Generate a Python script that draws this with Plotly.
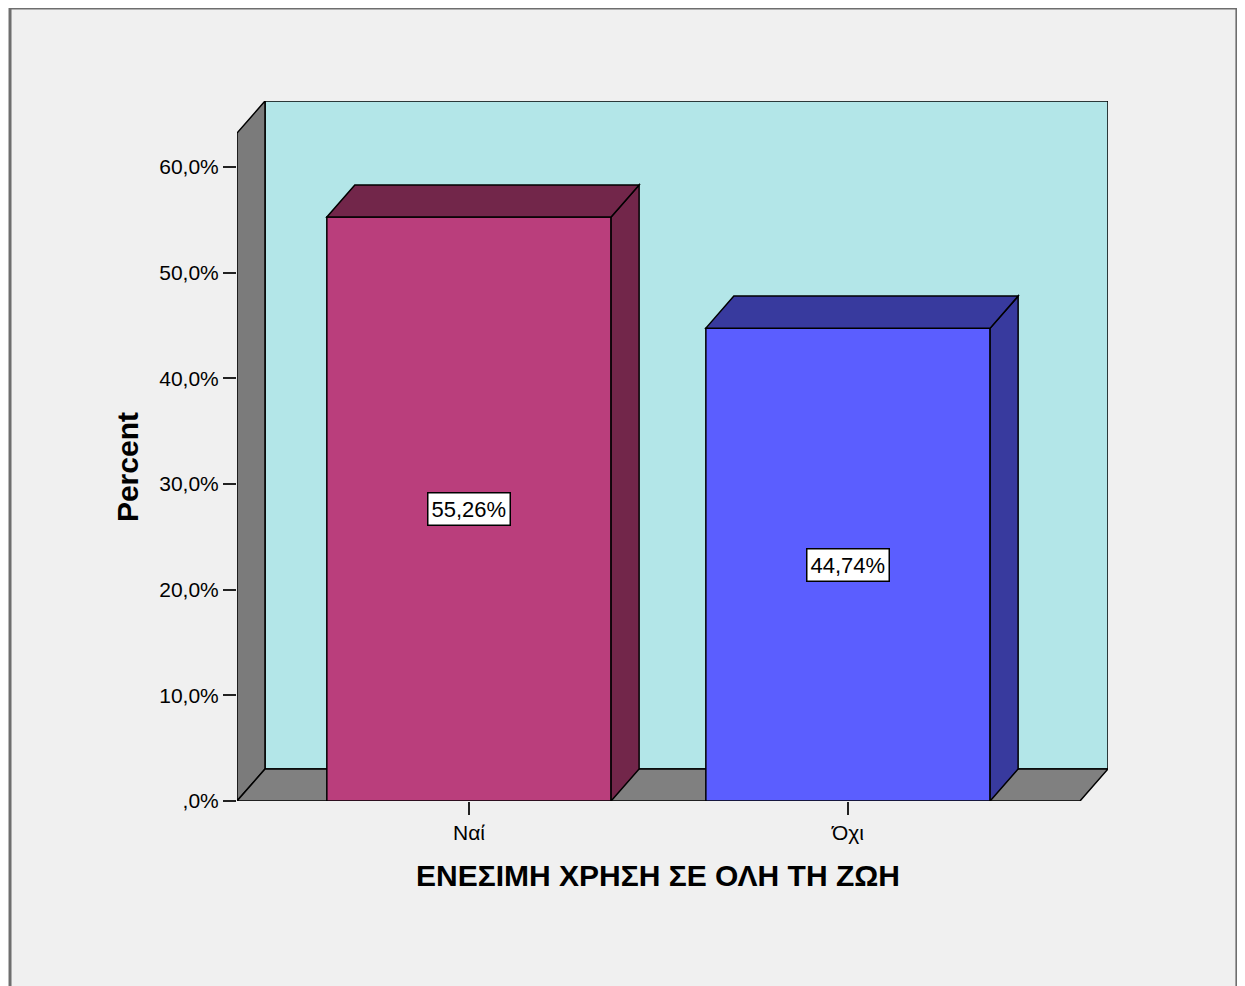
import plotly.graph_objects as go

# data
categories = ["Ναί", "Όχι"]
percent = [55.26, 44.74]
y_ticks = [0, 10, 20, 30, 40, 50, 60]
y_ticktext = [",0%", "10,0%", "20,0%", "30,0%", "40,0%", "50,0%", "60,0%"]
x_title = "ΕΝΕΣΙΜΗ ΧΡΗΣΗ ΣΕ ΟΛΗ ΤΗ ΖΩΗ"
y_title = "Percent"

# style
FONT = "Liberation Sans, Arial, sans-serif"
front_colors = ["#BA3E7C", "#5B5EFF"]
dark_colors = ["#72264A", "#383A9E"]
WALL = "#7B7B7B"
FLOOR = "#808080"
BACK = "#B3E6E8"
BG = "#F0F0F0"

BAR_W = 0.75
DX, DY = 0.0739, 3.03          # fake depth, in data units
X_LO, X_HI = -0.612, 1.686
WALL_TOP = 63.2
Y_HI = WALL_TOP + DY

xs = list(range(len(categories)))

fig = go.Figure()
fig.add_trace(go.Bar(
    x=xs, y=percent, width=BAR_W,
    marker=dict(color=front_colors, line=dict(color="black", width=1.5)),
    hoverinfo="skip", showlegend=False))

shapes = []
line = dict(color="black", width=1.5)

# back wall, left wall, floor
shapes.append(dict(type="rect", xref="x", yref="y", layer="below",
                   x0=X_LO + DX, x1=X_HI, y0=DY, y1=Y_HI,
                   fillcolor=BACK, line=line))
shapes.append(dict(type="path", xref="x", yref="y", layer="below",
                   path=f"M {X_LO},0 L {X_LO},{WALL_TOP} L {X_LO+DX},{Y_HI} L {X_LO+DX},{DY} Z",
                   fillcolor=WALL, line=line))
shapes.append(dict(type="path", xref="x", yref="y", layer="below",
                   path=f"M {X_LO},0 L {X_HI-DX},0 L {X_HI},{DY} L {X_LO+DX},{DY} Z",
                   fillcolor=FLOOR, line=line))

# bar sides and tops
for x, v, c in zip(xs, percent, dark_colors):
    x0, x1 = x - BAR_W / 2, x + BAR_W / 2
    shapes.append(dict(type="path", xref="x", yref="y", layer="above",
                       path=f"M {x1},0 L {x1+DX},{DY} L {x1+DX},{v+DY} L {x1},{v} Z",
                       fillcolor=c, line=line))
    shapes.append(dict(type="path", xref="x", yref="y", layer="above",
                       path=f"M {x0},{v} L {x0+DX},{v+DY} L {x1+DX},{v+DY} L {x1},{v} Z",
                       fillcolor=c, line=line))

# outer frame
shapes.append(dict(type="rect", xref="paper", yref="paper", layer="below",
                   x0=-0.2606, x1=1.148, y0=-0.3, y1=1.1329,
                   fillcolor=BG, line=dict(color="#6E6E6E", width=3)))

annotations = []
for x, v in zip(xs, percent):
    annotations.append(dict(
        x=x, y=v / 2, xref="x", yref="y", showarrow=False,
        text=f"{v:.2f}%".replace(".", ","),
        font=dict(family=FONT, size=22, color="black"),
        bgcolor="white", bordercolor="black", borderwidth=1.5, borderpad=3))
annotations.append(dict(
    x=0.4834, y=-0.107, xref="paper", yref="paper", showarrow=False,
    text=f"<b>{x_title}</b>", yanchor="middle",
    font=dict(family=FONT, size=30, color="black")))
annotations.append(dict(
    x=-0.1263, y=0.477, xref="paper", yref="paper", showarrow=False,
    text=f"<b>{y_title}</b>", textangle=-90,
    xanchor="center", yanchor="middle",
    font=dict(family=FONT, size=30, color="black")))

fig.update_layout(
    width=1237, height=978,
    margin=dict(l=229, r=137, t=93, b=185),
    paper_bgcolor="white", plot_bgcolor=BG,
    font=dict(family=FONT, size=21, color="black"),
    shapes=shapes, annotations=annotations,
    showlegend=False,
)
fig.update_xaxes(
    range=[X_LO, X_HI], tickvals=xs, ticktext=categories,
    showgrid=False, zeroline=False, showline=False,
    ticks="outside", ticklen=13, tickwidth=2, tickcolor="#222",
    tickfont=dict(size=21))
fig.update_yaxes(
    range=[0, Y_HI], tickvals=y_ticks, ticktext=y_ticktext,
    showgrid=False, zeroline=False, showline=False,
    ticks="outside", ticklen=13, tickwidth=2, tickcolor="#222",
    tickfont=dict(size=21))

fig.write_html("out.html")
